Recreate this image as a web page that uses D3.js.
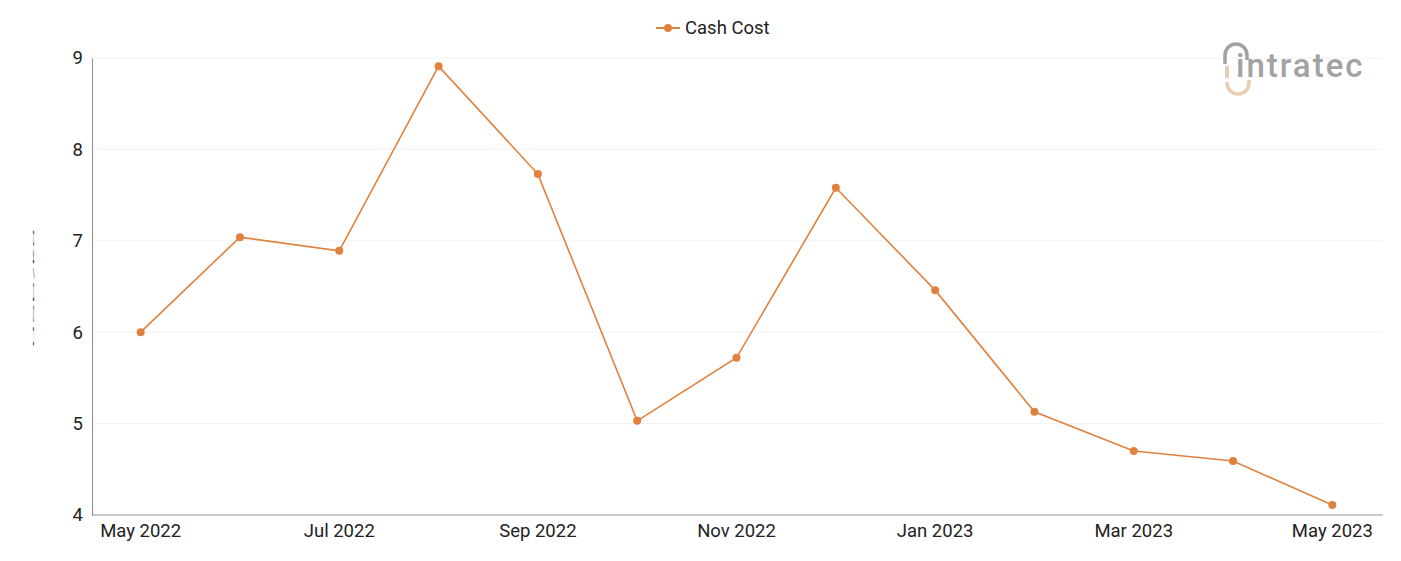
<!DOCTYPE html>
<html>
<head>
<meta charset="utf-8">
<script src="https://cdn.jsdelivr.net/npm/d3@7/dist/d3.min.js"></script>
<style>
  body { margin: 0; background: #fff; }
  svg { display: block; font-family: Roboto, "Noto Sans", sans-serif; }
</style>
</head>
<body>
<svg id="chart" width="1401" height="561"></svg>
<script>
const months = ["May 2022","Jun 2022","Jul 2022","Aug 2022","Sep 2022","Oct 2022","Nov 2022","Dec 2022","Jan 2023","Feb 2023","Mar 2023","Apr 2023","May 2023"];
const cashCost = [6.00, 7.04, 6.89, 8.91, 7.73, 5.03, 5.72, 7.58, 6.46, 5.13, 4.70, 4.59, 4.11];
const yTicks = [4, 5, 6, 7, 8, 9];
const xTickLabels = ["May 2022","Jul 2022","Sep 2022","Nov 2022","Jan 2023","Mar 2023","May 2023"];
const seriesName = "Cash Cost";
const yTitle = "USD/kg";

(function () {
const svg = d3.select("#chart");
const mLeft = 92, mRight = 1383, mTop = 58, mBottom = 515;
const color = "#e0823d";
const fs = 18.5;

const x = d3.scaleBand().domain(months).range([mLeft - 1, mRight - 1]);
const y = d3.scaleLinear().domain([4, 9]).range([mBottom, mTop]);

// gridlines
svg.append("g").selectAll("line").data(yTicks).join("line")
  .attr("x1", mLeft).attr("x2", mRight)
  .attr("y1", d => y(d)).attr("y2", d => y(d))
  .attr("stroke", "#f2f2f2").attr("stroke-width", 1);

// y axis
const yAxis = svg.append("g").attr("transform", `translate(${mLeft},0)`)
  .call(d3.axisLeft(y).tickValues(yTicks).tickSize(0).tickPadding(9).tickFormat(d3.format("d")));
yAxis.select(".domain").attr("stroke", "#999").attr("stroke-width", 1.2);
yAxis.selectAll("text").attr("font-size", fs).attr("fill", "#222").attr("font-family", "Roboto");

// x axis
const xAxis = svg.append("g").attr("transform", `translate(0,${mBottom})`)
  .call(d3.axisBottom(x).tickValues(xTickLabels).tickSize(0).tickPadding(9));
xAxis.select(".domain").remove();
svg.append("line").attr("x1", mLeft).attr("x2", mRight).attr("y1", mBottom).attr("y2", mBottom)
  .attr("stroke", "#999").attr("stroke-width", 1.2);
xAxis.selectAll("text").attr("font-size", fs).attr("fill", "#222").attr("font-family", "Roboto");

// y title (compressed)
svg.append("text")
  .attr("transform", "translate(33,288) rotate(-90) scale(1,0.18)")
  .attr("text-anchor", "middle")
  .attr("dy", "0.35em")
  .attr("font-size", 14)
  .attr("fill", "#222")
  .attr("textLength", 120)
  .attr("lengthAdjust", "spacingAndGlyphs")
  .text(yTitle);

// line
const cx = (d, i) => x(months[i]) + x.bandwidth() / 2;
svg.append("path").datum(cashCost)
  .attr("fill", "none").attr("stroke", color).attr("stroke-width", 1.6)
  .attr("d", d3.line().x(cx).y(d => y(d)));
svg.append("g").selectAll("circle").data(cashCost).join("circle")
  .attr("cx", cx).attr("cy", d => y(d)).attr("r", 4).attr("fill", color);

// legend
const lg = svg.append("g").attr("transform", "translate(656,28)");
lg.append("line").attr("x1", 0).attr("x2", 24).attr("y1", 0).attr("y2", 0).attr("stroke", color).attr("stroke-width", 2);
lg.append("circle").attr("cx", 12).attr("cy", 0).attr("r", 4).attr("fill", color);
lg.append("text").attr("x", 29).attr("dy", "0.35em").attr("font-size", fs).attr("fill", "#222").text(seriesName);

// logo
const logo = svg.append("g").attr("opacity", 0.9);
logo.append("path").attr("d", "M1225,64 L1225,55 A11,11 0 0 1 1247,55 L1247,60")
  .attr("fill", "none").attr("stroke", "#999").attr("stroke-width", 3.5);
logo.append("line").attr("x1", 1227).attr("x2", 1227).attr("y1", 66).attr("y2", 78)
  .attr("stroke", "#e8c7a6").attr("stroke-width", 4);
logo.append("path").attr("d", "M1227,82 L1227,83 A11,11 0 0 0 1249,83 L1249,80")
  .attr("fill", "none").attr("stroke", "#e8c7a6").attr("stroke-width", 3.5);
logo.append("text").attr("x", 1236).attr("y", 77).attr("font-size", 33).attr("font-weight", 500)
  .attr("fill", "#999").attr("font-family", "Roboto").attr("letter-spacing", 2).text("intratec");
})();
</script>
</body>
</html>
